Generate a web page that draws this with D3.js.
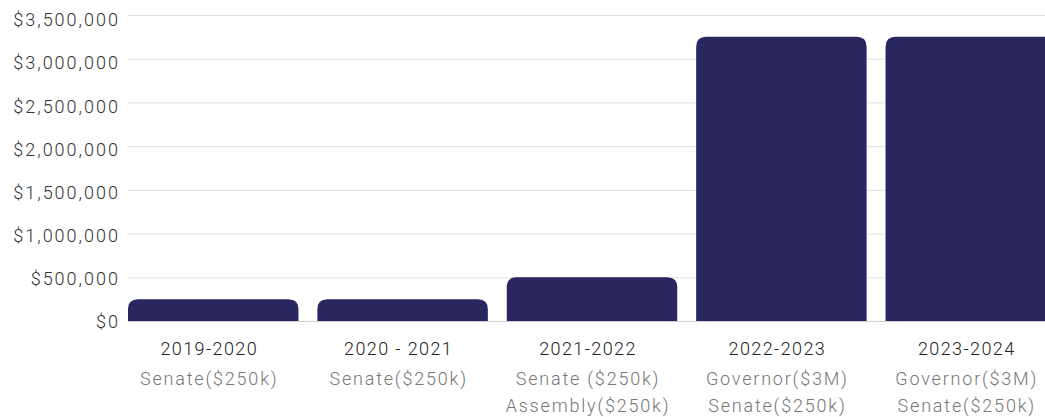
<!DOCTYPE html>
<html lang="en">
<head>
    <meta charset="UTF-8">
    <title>Funding by year</title>
    <script src="https://cdn.jsdelivr.net/npm/d3@7"></script>
    <style>
        body { margin: 0; background: #fff; }
        svg { display: block; font-family: Roboto, "Noto Sans", sans-serif; }
        .y-label { font-size: 18px; fill: #333; font-weight: 300; letter-spacing: 2px; }
        .year-label { font-size: 18px; fill: #222; font-weight: 300; letter-spacing: 1.4px; }
        .sub-label { font-size: 18px; fill: #777; font-weight: 300; letter-spacing: 1.8px; }
    </style>
</head>
<body>
    <svg width="1045" height="417" id="chart"></svg>
    <script>
        const years = ["2019-2020", "2020 - 2021", "2021-2022", "2022-2023", "2023-2024"];
        const amounts = [250000, 250000, 500000, 3250000, 3250000];
        const programs = [
            ["Senate($250k)"],
            ["Senate($250k)"],
            ["Senate ($250k)", "Assembly($250k)"],
            ["Governor($3M)", "Senate($250k)"],
            ["Governor($3M)", "Senate($250k)"]
        ];
        const yTicks = [0, 500000, 1000000, 1500000, 2000000, 2500000, 3000000, 3500000];

        const svg = d3.select("#chart"),
              width = +svg.attr("width");

        const x = d3.scaleBand()
            .domain(years)
            .range([128, 1056])
            .paddingInner(0.1)
            .paddingOuter(0);

        const y = d3.scaleLinear()
            .domain([0, 3500000])
            .range([321, 15]);

        // tick labels sit a little lower than their lines toward the top
        const yLabel = d3.scaleLinear()
            .domain([0, 3500000])
            .range([322, 20]);

        const fmt = d3.format("$,");

        // gridlines
        svg.append("g")
            .selectAll("line")
            .data(yTicks)
            .enter().append("line")
            .attr("x1", 128)
            .attr("x2", width)
            .attr("y1", d => y(d) + 0.5)
            .attr("y2", d => y(d) + 0.5)
            .attr("stroke", d => d === 0 ? "#d0d0d0" : "#e2e2e2")
            .attr("stroke-width", 1);

        // y labels
        svg.append("g")
            .selectAll("text")
            .data(yTicks)
            .enter().append("text")
            .attr("class", "y-label")
            .attr("x", 120)
            .attr("y", d => yLabel(d))
            .attr("dy", "0.35em")
            .attr("text-anchor", "end")
            .text(d => fmt(d));

        // bars with rounded top corners
        const r = 10;
        svg.append("g")
            .selectAll("path")
            .data(years)
            .enter().append("path")
            .attr("fill", "#2a2660")
            .attr("d", (d, i) => {
                const x0 = x(d), w = x.bandwidth(), y0 = y(amounts[i]), yb = y(0);
                return `M${x0},${yb} V${y0 + r} Q${x0},${y0} ${x0 + r},${y0} H${x0 + w - r} Q${x0 + w},${y0} ${x0 + w},${y0 + r} V${yb} Z`;
            });

        // x labels
        const lbl = svg.append("g")
            .selectAll("g")
            .data(years)
            .enter().append("g")
            .attr("transform", d => `translate(${x(d) + x.bandwidth() / 2 - 4},0)`);

        lbl.append("text")
            .attr("class", "year-label")
            .attr("y", 355)
            .attr("text-anchor", "middle")
            .text(d => d);

        lbl.each(function(d, i) {
            d3.select(this).selectAll(".sub-label")
                .data(programs[i])
                .enter().append("text")
                .attr("class", "sub-label")
                .attr("y", (p, j) => 385 + j * 27)
                .attr("text-anchor", "middle")
                .text(p => p);
        });
    </script>
</body>
</html>
